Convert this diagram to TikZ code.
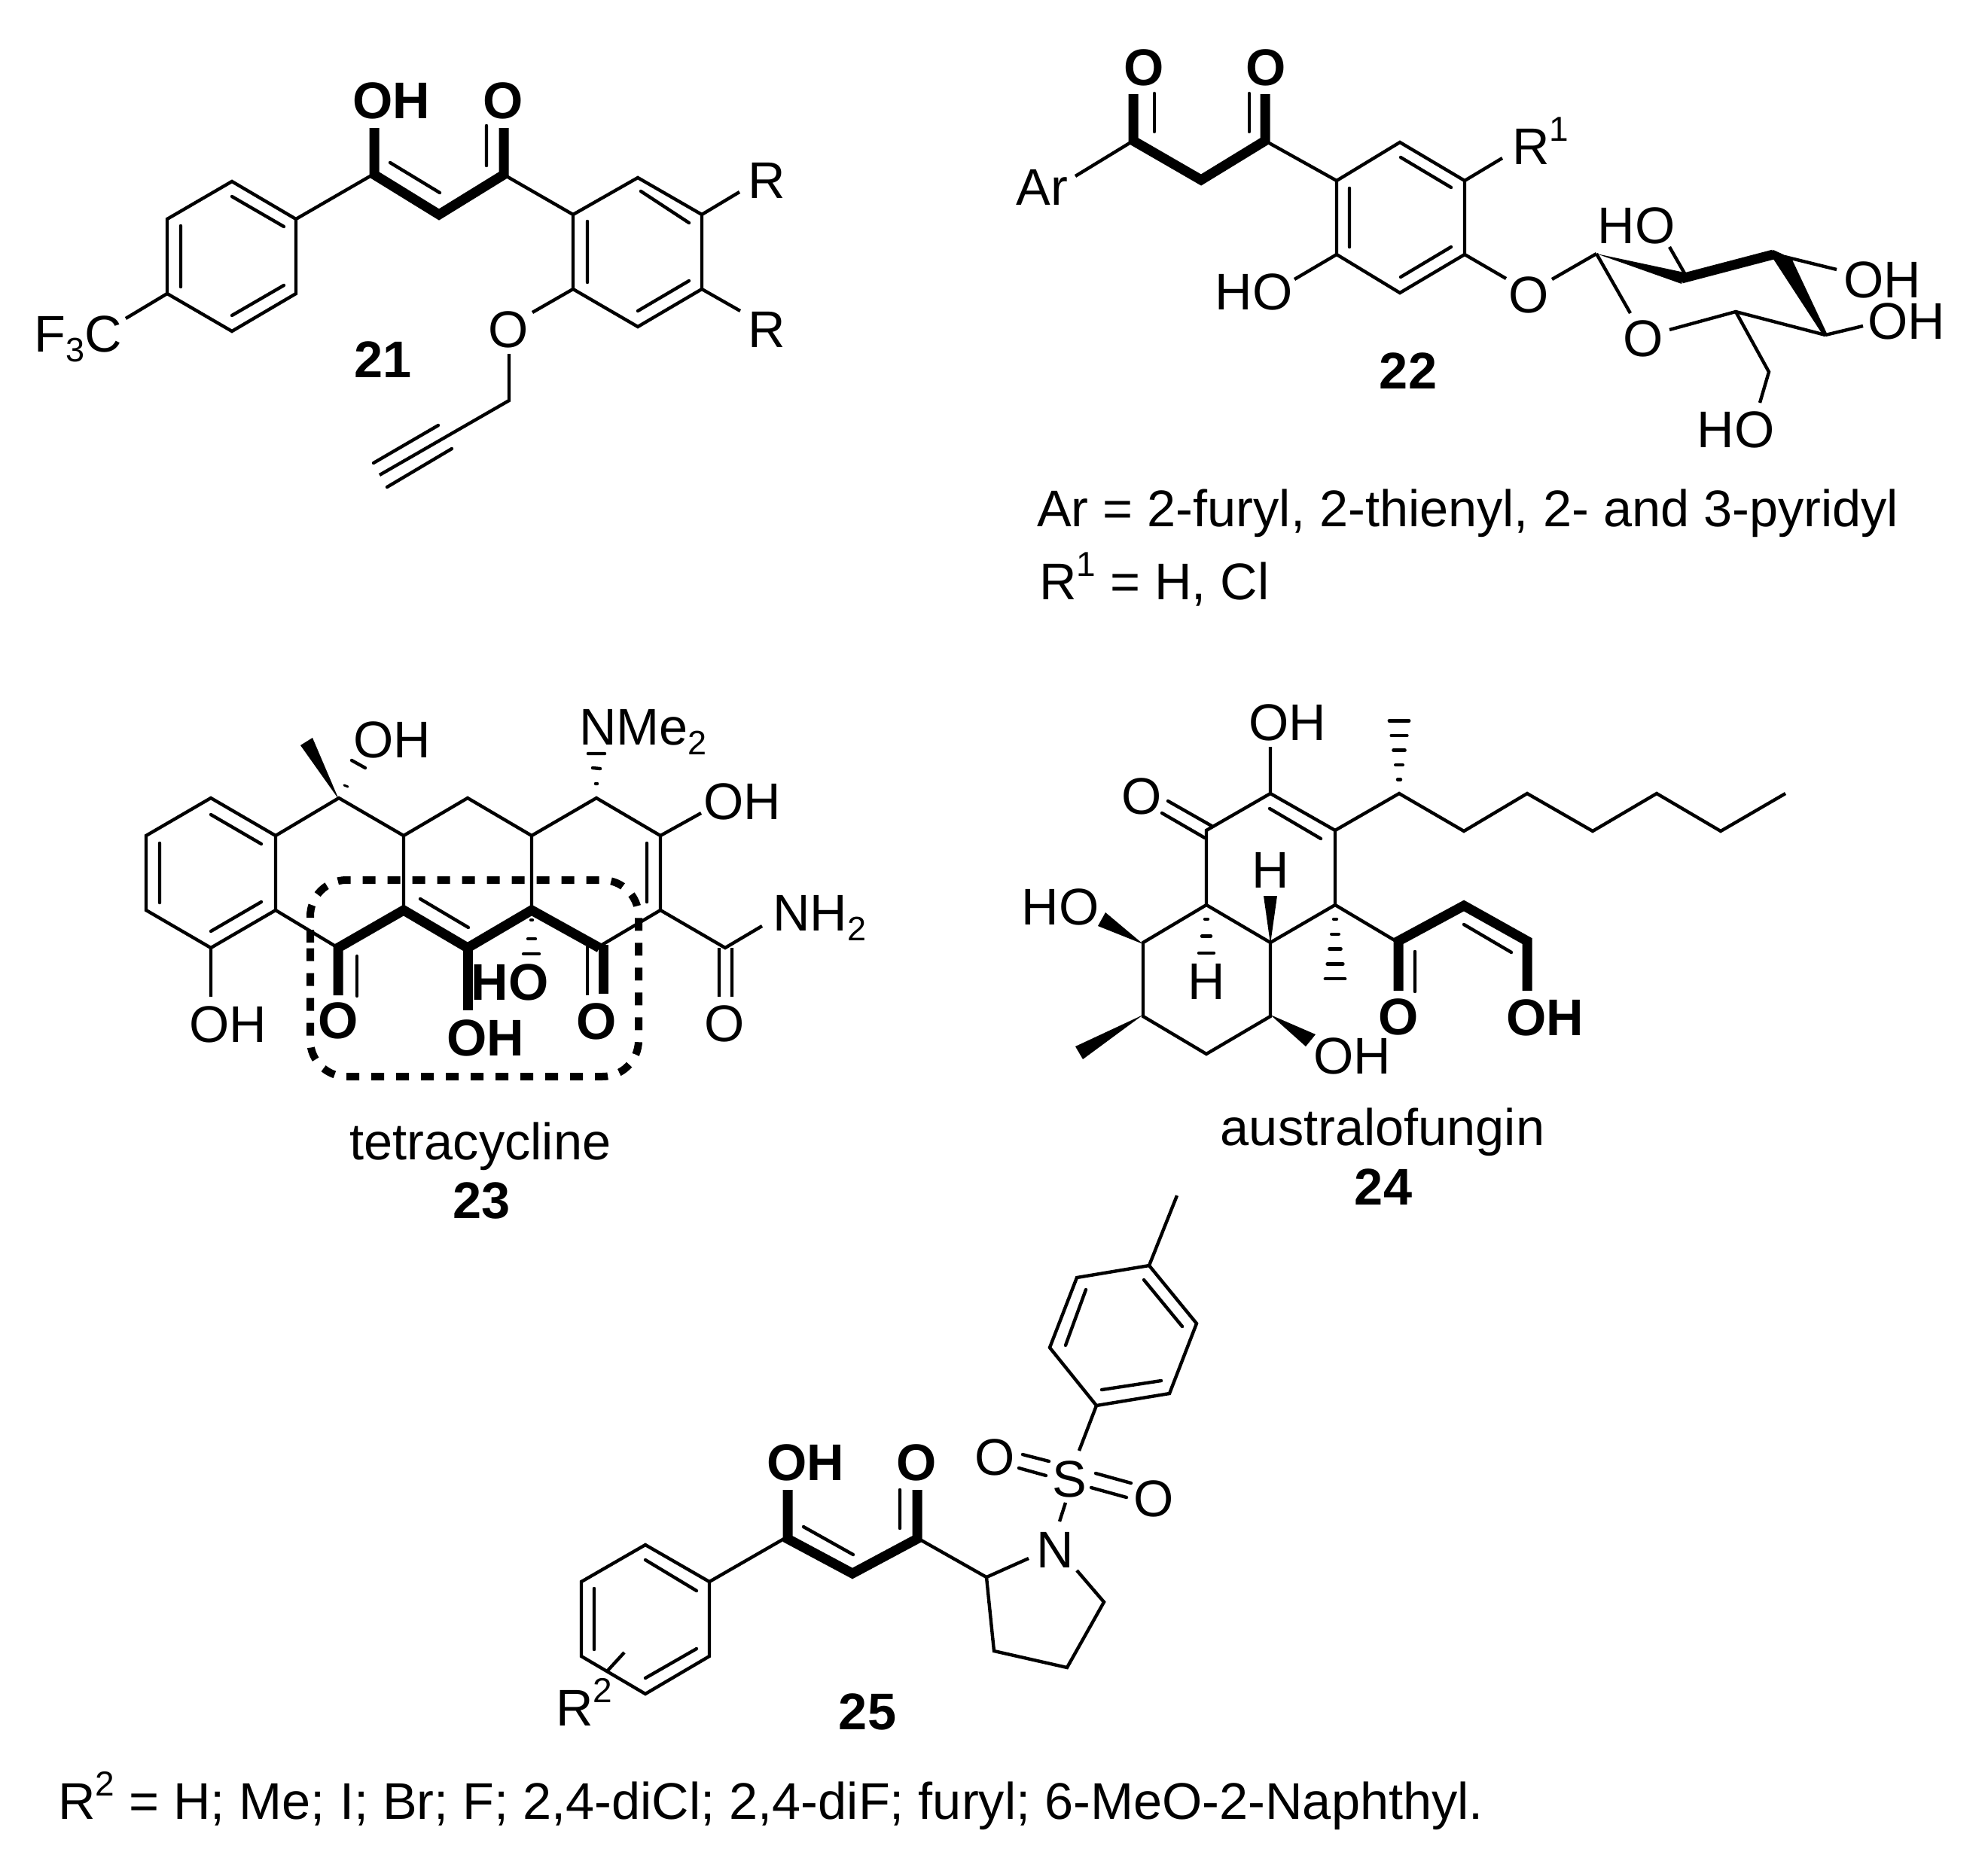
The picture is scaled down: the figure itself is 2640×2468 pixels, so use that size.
\documentclass[tikz,border=0pt]{standalone}
\usepackage{fontspec}
\setmainfont{Liberation Sans}
\newcommand\sbs[1]{\raisebox{-13pt}{\fontsize{45}{45}\selectfont #1}}
\newcommand\sps[1]{\raisebox{31pt}{\fontsize{46}{46}\selectfont #1}}
% vertical hashed bond: x, y of first dash, step, number of dashes, half-width of first, half-width step
\newcommand\hashv[6]{\foreach \i in {1,...,#4}{\pgfmathsetmacro\yy{#2+(\i-1)*(#3)}\pgfmathsetmacro\hw{#5+(\i-1)*(#6)}\draw[hashline] (#1-\hw,\yy) -- (#1+\hw,\yy);}}
\tikzset{
  bond/.style={line width=4.4pt,line cap=butt,line join=miter,miter limit=10},
  inner/.style={line width=4.4pt,line cap=round},
  hv/.style={line width=13pt,line cap=butt,line join=miter,miter limit=10},
  hashline/.style={line width=4.4pt,line cap=round},
  lab/.style={inner sep=0pt,font=\fontsize{68.5}{72}\selectfont},
  labb/.style={inner sep=0pt,font=\fontsize{68.5}{72}\selectfont\bfseries},
  txt/.style={inner sep=0pt,anchor=base west,font=\fontsize{68.5}{72}\selectfont},
  num/.style={inner sep=0pt,anchor=base,font=\fontsize{68.5}{72}\selectfont\bfseries},
  captxt/.style={inner sep=0pt,anchor=base,font=\fontsize{68.5}{72}\selectfont},
  boxd/.style={line width=10pt,dash pattern=on 17pt off 16pt,rounded corners=48pt}
}
\begin{document}
\begin{tikzpicture}[x=1pt,y=-1pt]
\useasboundingbox (0,0) rectangle (2640,2468);
\fill[white] (0,0) rectangle (2640,2468);
%% 21
\draw[bond] (308,241) -- (393,291) -- (393,390) -- (308,440) -- (222,390) -- (222,291) -- cycle;
\draw[inner] (308,261) -- (377,301) (240,300) -- (240,381) (308,419) -- (377,379);
\draw[bond] (393,291) -- (495,232);
\draw[hv] (497,170) -- (497,232) -- (583,285) -- (669,232) -- (669,170);
\draw[inner] (518,216) -- (584,256) (646,167) -- (646,220);
\draw[bond] (669,232) -- (761,285);
\draw[bond] (847,236) -- (932,285) -- (932,384) -- (847,434) -- (761,384) -- (761,285) -- cycle;
\draw[inner] (851,254) -- (915,296) (780,294) -- (780,375) (847,413) -- (915,373);
\draw[bond] (932,285) -- (982,255) (932,384) -- (983,413) (761,384) -- (707,415);
\draw[bond] (676,470) -- (676,532) -- (504,631);
\draw[inner] (582,565) -- (496,615) (600,596) -- (514,647);
\draw[bond] (222,390) -- (167,423);
\node[labb] (oh21) at (520,134) {OH};
\node[labb] (o21) at (668,134) {O};
\node[lab] (r21a) at (1018,240) {R};
\node[lab] (r21b) at (1018,438) {R};
\node[lab] (o21b) at (675,438) {O};
\node[txt] (f21) at (45,467) {F\sbs{3}C};
\node[num] (n21) at (509,501) {21};
%% 22
\draw[bond] (1428,234) -- (1505,187);
\draw[hv] (1505,125) -- (1505,187) -- (1595,239) -- (1680,187) -- (1680,125);
\draw[inner] (1533,124) -- (1533,175) (1659,124) -- (1659,175);
\draw[bond] (1680,187) -- (1775,240);
\draw[bond] (1775,240) -- (1859,189) -- (1945,240) -- (1945,338) -- (1859,389) -- (1775,338) -- cycle;
\draw[inner] (1860,209) -- (1927,249) (1792,250) -- (1792,328) (1860,368) -- (1927,328);
\draw[bond] (1945,240) -- (1995,210) (1775,338) -- (1719,371) (1945,338) -- (2000,370) (2061,371) -- (2120,337);
\fill (2120,337) -- (2237,362) -- (2233,377) -- cycle;
\draw[hv] (2233,370) -- (2355,338);
\fill (2351,338) -- (2355,332) -- (2379,343) -- (2427,445) -- (2422,447) -- cycle;
\draw[bond] (2120,337) -- (2165,416) (2424,445) -- (2305,414) -- (2217,438);
\draw[bond] (2237,363) -- (2217,328) (2370,341) -- (2439,358) (2424,445) -- (2474,433);
\draw[bond] (2305,414) -- (2349,494) -- (2337,535);
\node[labb] (o22a) at (1519,90) {O};
\node[labb] (o22b) at (1681,90) {O};
\node[lab] (ar22) at (1384,249) {Ar};
\node[txt] (r22) at (2008,218) {R\sps{1}};
\node[lab] (ho22a) at (1665,388) {HO};
\node[lab] (o22c) at (2030,392) {O};
\node[lab] (o22d) at (2182,450) {O};
\node[lab] (ho22b) at (2173,300) {HO};
\node[lab] (oh22a) at (2500,372) {OH};
\node[lab] (oh22b) at (2532,427) {OH};
\node[lab] (ho22c) at (2305,571) {HO};
\node[num] (n22) at (1870,516) {22};
\node[txt] (t22a) at (1377,699) {Ar = 2-furyl, 2-thienyl, 2- and 3-pyridyl};
\node[txt] (t22b) at (1380,796) {R\sps{1} = H, Cl};
%% 23
\draw[bond] (280,1060) -- (366,1110) -- (366,1209) -- (280,1259) -- (194,1209) -- (194,1110) -- cycle;
\draw[inner] (280,1082) -- (347,1121) (212,1120) -- (212,1199) (280,1237) -- (347,1198);
\draw[bond] (366,1110) -- (450,1060) -- (536,1110) -- (621,1060) -- (706,1110) -- (792,1060) -- (877,1110) -- (877,1209) -- (796,1257);
\draw[bond] (536,1110) -- (536,1209) (706,1110) -- (706,1209) (366,1209) -- (449,1259);
\draw[inner] (859,1120) -- (859,1198) (558,1194) -- (622,1232);
\draw[hv] (449,1322) -- (449,1259) -- (536,1209) -- (621,1259) -- (706,1209) -- (796,1259);
\draw[hv] (621,1259) -- (621,1342);
\draw[hv] (801,1255) -- (801,1320);
\draw[bond] (780,1257) -- (780,1322);
\draw[inner] (474,1270) -- (474,1323);
\draw[bond] (877,1209) -- (963,1259) -- (1012,1230) (955,1259) -- (955,1324) (972,1259) -- (972,1324);
\draw[bond] (280,1259) -- (280,1324) (931,1080) -- (877,1110);
\fill (450,1062) -- (399,990) -- (415,980) -- cycle;
\draw[hashline,line width=3pt] (457,1043) -- (462,1045);
\draw[hashline] (467,1010) -- (485,1020);
\draw[hashline] (791,1041) -- (793,1041) (787,1020) -- (797,1021) (781,1001) -- (803,1001);
\draw[hashline] (705,1222) -- (707,1222) (701,1247) -- (711,1247) (695,1267) -- (716,1267);
\draw[boxd] (412,1300) -- (412,1169) -- (848,1169) -- (848,1430) -- (412,1430) -- cycle;
\node[lab] (oh23a) at (521,983) {OH};
\node[txt] (nme) at (769,989) {NMe\sbs{2}};
\node[lab] (oh23b) at (986,1065) {OH};
\node[txt] (nh2) at (1026,1236) {NH\sbs{2}};
\node[lab] (o23a) at (962,1360) {O};
\node[lab] (oh23c) at (303,1361) {OH};
\node[labb] (o23b) at (449,1356) {O};
\node[labb] (oh23d) at (645,1379) {OH};
\node[labb] (ho23) at (677,1305) {HO};
\node[labb] (o23c) at (792,1357) {O};
\node[captxt] (t23) at (638,1540) {tetracycline};
\node[num] (n23) at (640,1618) {23};
%% 24
\draw[bond] (1687,992) -- (1687,1054) -- (1773,1103) -- (1773,1202) -- (1687,1252) -- (1602,1202) -- (1602,1103) -- (1687,1054);
\draw[inner] (1686,1074) -- (1754,1114) (1551,1064) -- (1609,1097) (1543,1080) -- (1600,1113);
\draw[bond] (1602,1202) -- (1518,1252) -- (1518,1350) -- (1602,1400) -- (1687,1350) -- (1687,1252);
\draw[bond] (1773,1103) -- (1858,1054) -- (1944,1104) -- (2028,1054) -- (2115,1104) -- (2200,1054) -- (2285,1104) -- (2371,1054);
\hashv{1858}{1035.5}{-19.5}{5}{2}{2.8}
\fill (1687,1254) -- (1678,1190) -- (1696,1190) -- cycle;
\hashv{1602}{1221}{22.5}{3}{2}{4}
\hashv{1773}{1221}{19.8}{5}{2}{2.8}
\fill (1518,1254) -- (1468,1212) -- (1458,1230) -- cycle;
\fill (1518,1348) -- (1428,1390) -- (1438,1407) -- cycle;
\fill (1687,1348) -- (1747,1374) -- (1734,1390) -- cycle;
\draw[bond] (1773,1202) -- (1857,1252);
\draw[hv] (1857,1316) -- (1857,1250) -- (1944,1203) -- (2028,1250) -- (2028,1316);
\draw[inner] (1944,1228) -- (2007,1265) (1879,1264) -- (1879,1317);
\node[lab] (oh24a) at (1710,960) {OH};
\node[lab] (o24a) at (1516,1058) {O};
\node[lab] (h24a) at (1687,1156) {H};
\node[lab] (h24b) at (1602,1304) {H};
\node[lab] (ho24) at (1408,1205) {HO};
\node[lab] (oh24b) at (1796,1403) {OH};
\node[labb] (o24b) at (1857,1351) {O};
\node[labb] (oh24c) at (2052,1352) {OH};
\node[captxt] (t24) at (1836,1521) {australofungin};
\node[num] (n24) at (1837,1600) {24};
%% 25
\draw[bond] (1563,1588) -- (1526,1681);
\draw[bond] (1526,1681) -- (1589,1758) -- (1553,1851) -- (1456,1867) -- (1394,1790) -- (1430,1697) -- cycle;
\draw[inner] (1519,1700) -- (1570,1762) (1442,1713) -- (1415,1787) (1463,1846) -- (1542,1834);
\draw[bond] (1456,1867) -- (1433,1927);
\draw[inner] (1358,1932) -- (1393,1941) (1353,1950) -- (1389,1960) (1455,1957) -- (1502,1970) (1449,1976) -- (1496,1989);
\draw[bond] (1415,1996) -- (1407,2021);
\draw[bond] (1366,2070) -- (1310,2095) -- (1320,2193) -- (1417,2215) -- (1466,2128) -- (1430,2086);
\draw[bond] (1220,2044) -- (1310,2095);
\draw[hv] (1046,1979) -- (1046,2044) -- (1132,2090) -- (1218,2044) -- (1218,1979);
\draw[inner] (1195,1979) -- (1195,2030) (1067,2028) -- (1133,2065);
\draw[bond] (1041,2044) -- (942,2101);
\draw[bond] (942,2101) -- (857,2052) -- (772,2101) -- (772,2200) -- (857,2250) -- (942,2200) -- cycle;
\draw[inner] (857,2072) -- (925,2113) (789,2110) -- (789,2191) (857,2229) -- (925,2190);
\draw[bond] (807,2219) -- (829,2195);
\node[lab] (o25a) at (1321,1936) {O};
\node[lab] (o25b) at (1532,1991) {O};
\node[lab] (s25) at (1420,1965) {S};
\node[lab] (n25a) at (1401,2059) {N};
\node[labb] (oh25) at (1070,1943) {OH};
\node[labb] (o25c) at (1217,1943) {O};
\node[txt] (r25) at (738,2292) {R\sps{2}};
\node[num] (n25) at (1152,2297) {25};
\node[txt] (t25) at (77,2416) {R\sps{2} = H; Me; I; Br; F; 2,4-diCl; 2,4-diF; furyl; 6-MeO-2-Naphthyl.};
\end{tikzpicture}
\end{document}
